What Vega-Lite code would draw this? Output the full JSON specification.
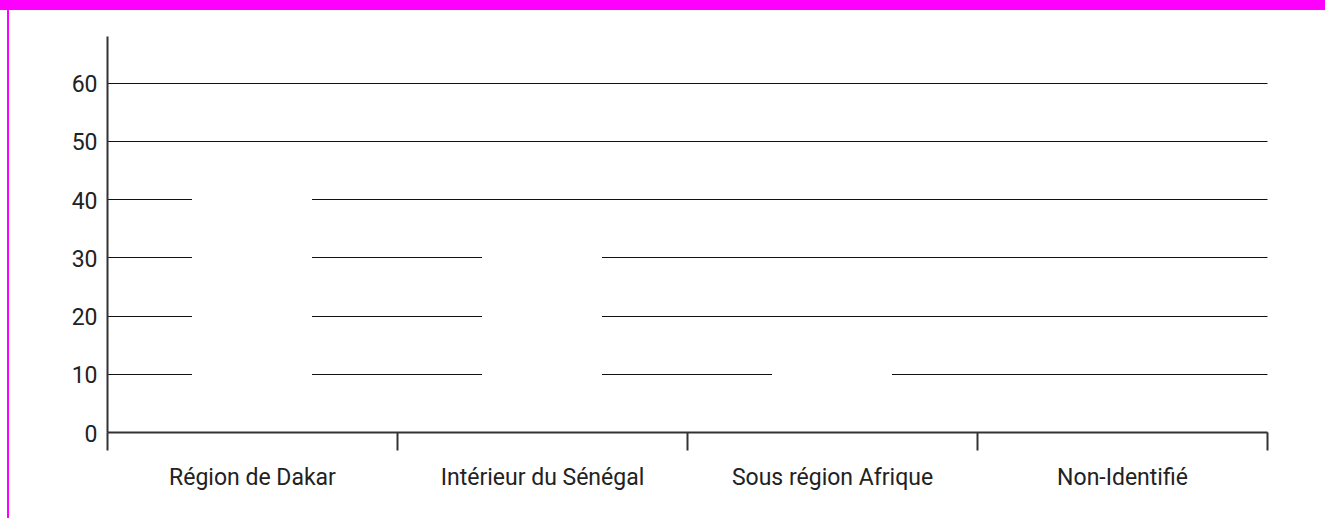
{
  "$schema": "https://vega.github.io/schema/vega-lite/v6.json",
  "padding": 0,
  "background": "white",
  "spacing": 0,
  "config": {"view": {"stroke": null}, "concat": {"spacing": 0}},
  "vconcat": [
    {
      "width": 1325,
      "height": 10,
      "data": {"values": [{}]},
      "mark": {"type": "rect", "color": "#FF00FF"},
      "encoding": {}
    },
    {
      "spacing": 0,
      "hconcat": [
        {
          "width": 7,
          "height": 10,
          "data": {"values": [{}]},
          "mark": {"type": "rect", "opacity": 0},
          "encoding": {}
        },
        {
          "width": 2,
          "height": 510,
          "data": {"values": [{}]},
          "mark": {"type": "rect", "color": "#FF00FF"},
          "encoding": {}
        },
        {
          "width": 62,
          "height": 10,
          "data": {"values": [{}]},
          "mark": {"type": "rect", "opacity": 0},
          "encoding": {}
        },
        {
          "spacing": 0,
          "vconcat": [
            {
              "width": 10,
              "height": 26,
              "data": {"values": [{}]},
              "mark": {"type": "rect", "opacity": 0},
              "encoding": {}
            },
            {
              "width": 1160,
              "height": 396,
              "data": {
                "values": [
                  {"region": "Région de Dakar", "pct": 45},
                  {"region": "Intérieur du Sénégal", "pct": 35},
                  {"region": "Sous région Afrique", "pct": 15},
                  {"region": "Non-Identifié", "pct": 0.5}
                ]
              },
              "mark": {"type": "bar", "color": "white", "width": {"band": 0.4138}},
              "encoding": {
                "x": {
                  "field": "region",
                  "type": "nominal",
                  "sort": null,
                  "scale": {"paddingInner": 0, "paddingOuter": 0},
                  "axis": {
                    "title": null,
                    "tickBand": "extent",
                    "labelAngle": 0,
                    "labelLimit": 0,
                    "grid": false,
                    "domainColor": "#333333",
                    "domainWidth": 2,
                    "tickColor": "#333333",
                    "tickWidth": 2,
                    "tickSize": 18,
                    "labelFont": "Roboto",
                    "labelFontSize": 23,
                    "labelColor": "#222222",
                    "labelPadding": 16,
                    "zindex": 1
                  }
                },
                "y": {
                  "field": "pct",
                  "type": "quantitative",
                  "scale": {"domain": [0, 68], "nice": false},
                  "axis": {
                    "title": null,
                    "values": [0, 10, 20, 30, 40, 50, 60],
                    "ticks": false,
                    "grid": true,
                    "gridColor": "#111111",
                    "gridWidth": 1,
                    "domainColor": "#333333",
                    "domainWidth": 2,
                    "labelFont": "Roboto",
                    "labelFontSize": 23,
                    "labelColor": "#222222",
                    "labelPadding": 10,
                    "labelOffset": 2,
                    "zindex": 0
                  }
                }
              }
            }
          ]
        }
      ]
    }
  ]
}
